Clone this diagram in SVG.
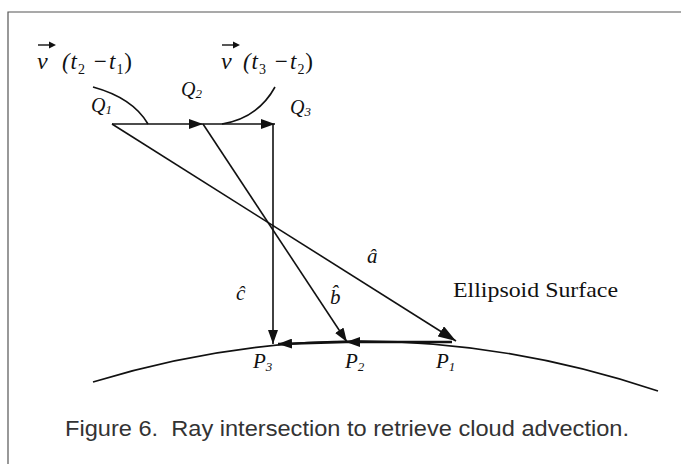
<svg xmlns="http://www.w3.org/2000/svg" width="681" height="464" viewBox="0 0 681 464">
<style>
.ln{stroke:#111;stroke-width:1.6;fill:none}
.lab{font-family:'Liberation Serif','Times New Roman',serif;font-style:italic;fill:#111}
.tx{font-family:'Liberation Serif','Times New Roman',serif;fill:#111}
</style>
<defs>
<marker id="ah" viewBox="0 0 14 10" refX="14" refY="5" markerWidth="14" markerHeight="10" markerUnits="userSpaceOnUse" orient="auto">
<path d="M0,0 L14,5 L0,10 z" fill="#111"/>
</marker>
<marker id="ahb" viewBox="0 0 18 12" refX="18" refY="6" markerWidth="18" markerHeight="12" markerUnits="userSpaceOnUse" orient="auto">
<path d="M0,0 L18,6 L0,12 z" fill="#111"/>
</marker>
</defs>
<rect width="681" height="464" fill="#fff"/>
<path d="M8,464 V12 H681" stroke="#555" stroke-width="1.2" fill="none"/>
<g id="surface"><path class="ln" d="M93,382 Q374,296 658,391"/></g>
<g id="connectors">
<line class="ln" x1="112" y1="124" x2="203" y2="124" marker-end="url(#ah)"/>
<line class="ln" x1="203" y1="124" x2="275" y2="124" marker-end="url(#ah)"/>
<line class="ln" x1="112" y1="124" x2="456" y2="341" marker-end="url(#ahb)"/>
<line class="ln" x1="203" y1="124" x2="347" y2="342" marker-end="url(#ah)"/>
<line class="ln" x1="273" y1="124" x2="273" y2="344" marker-end="url(#ah)"/>
<line class="ln" style="stroke-width:2.4" x1="452" y1="342" x2="346" y2="342" marker-end="url(#ah)"/>
<line class="ln" style="stroke-width:2.4" x1="346" y1="342" x2="278" y2="344" marker-end="url(#ah)"/>
<path class="ln" d="M93,87 Q133,98 148,124"/>
<path class="ln" d="M275,87 Q258,118 222,124"/>
</g>
<g id="v1">
<text class="lab" x="37" y="69" font-size="24">v</text>
<line x1="38" y1="45" x2="54" y2="45" stroke="#111" stroke-width="1.4"/>
<path d="M49,41.5 L56,45 L49,48.5 z" fill="#111"/>
<text class="lab" x="62" y="69" font-size="23" textLength="70" lengthAdjust="spacing">(t<tspan font-size="14" dy="5" font-style="normal">2</tspan><tspan dy="-5"> −t</tspan><tspan font-size="14" dy="5" font-style="normal">1</tspan><tspan dy="-5" font-style="normal">)</tspan></text>
</g>
<g id="v2">
<text class="lab" x="221" y="69" font-size="24">v</text>
<line x1="222" y1="45" x2="238" y2="45" stroke="#111" stroke-width="1.4"/>
<path d="M233,41.5 L240,45 L233,48.5 z" fill="#111"/>
<text class="lab" x="243" y="69" font-size="23" textLength="70" lengthAdjust="spacing">(t<tspan font-size="14" dy="5" font-style="normal">3</tspan><tspan dy="-5"> −t</tspan><tspan font-size="14" dy="5" font-style="normal">2</tspan><tspan dy="-5" font-style="normal">)</tspan></text>
</g>
<g id="Q1"><text class="lab" x="91" y="112" font-size="20">Q<tspan font-size="13" dy="2">1</tspan></text></g>
<g id="Q2"><text class="lab" x="181" y="96" font-size="20">Q<tspan font-size="13" dy="2">2</tspan></text></g>
<g id="Q3"><text class="lab" x="290" y="114" font-size="20">Q<tspan font-size="13" dy="2">3</tspan></text></g>
<g id="P3"><text class="lab" x="253" y="368" font-size="21">P<tspan font-size="13" dy="3">3</tspan></text></g>
<g id="P2"><text class="lab" x="345" y="368" font-size="21">P<tspan font-size="13" dy="3">2</tspan></text></g>
<g id="P1"><text class="lab" x="436" y="368" font-size="21">P<tspan font-size="13" dy="3">1</tspan></text></g>
<g id="a"><text class="lab" x="367" y="263" font-size="21">â</text></g>
<g id="b"><text class="lab" x="330" y="304" font-size="21">b̂</text></g>
<g id="c"><text class="lab" x="236" y="300" font-size="21">ĉ</text></g>
<g id="ellipsoid"><text class="tx" x="453" y="297" font-size="22" textLength="165" lengthAdjust="spacingAndGlyphs">Ellipsoid Surface</text></g>
<g id="caption"><text x="65" y="436" font-family="'Liberation Sans Narrow','Liberation Sans',sans-serif" font-size="22" fill="#333" textLength="564" lengthAdjust="spacingAndGlyphs">Figure 6.&#160; Ray intersection to retrieve cloud advection.</text></g>
</svg>
